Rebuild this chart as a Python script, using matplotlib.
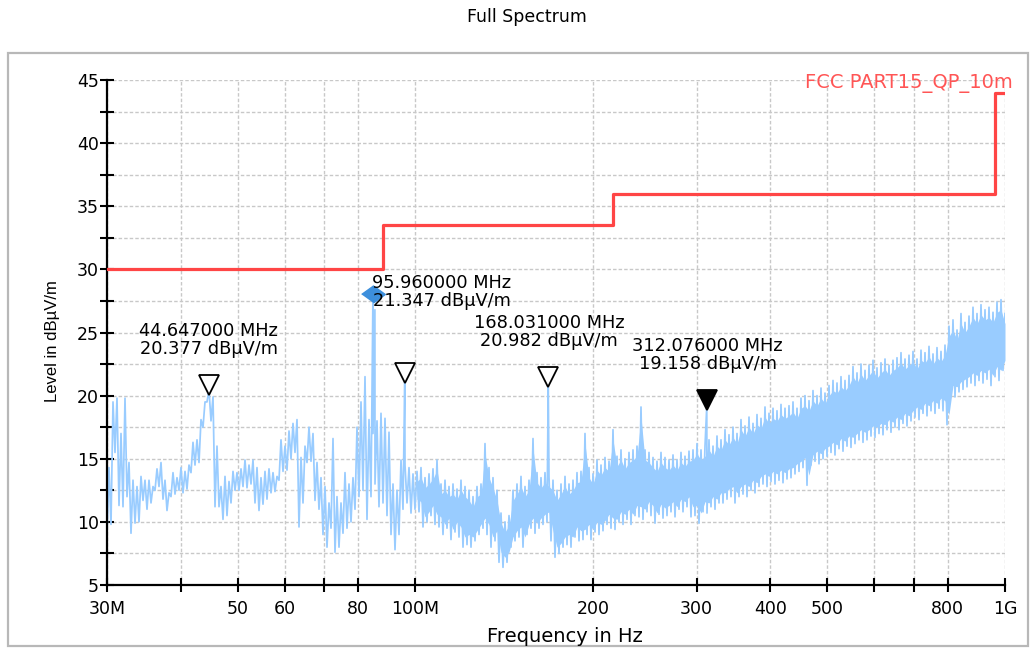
import numpy as np
import matplotlib
matplotlib.use('Agg')
import matplotlib.pyplot as plt
from matplotlib.transforms import offset_copy
from matplotlib.patches import Rectangle
from matplotlib.ticker import NullLocator

plt.rcParams['font.family'] = ['DejaVu Sans']

# ---------------- data ----------------
# measured trace, read per narrow frequency bin: floor (min) and peak (max) in dBuV/m
trace_floor = [
    9.0, 9.8, 15.5, 11.3, 11.2, 12.0, 9.1, 9.9, 10.0, 11.7,
    11.0, 11.5, 12.5, 12.8, 11.8, 10.9, 12.0, 12.2, 12.5, 12.3,
    12.6, 13.9, 14.5, 14.7, 17.5, 19.5, 18.0, 11.2, 11.2, 10.2,
    10.5, 11.5, 12.5, 12.5, 12.8, 12.7, 13.0, 11.5, 10.9, 11.4,
    11.8, 12.3, 12.4, 13.3, 14.0, 14.1, 15.0, 15.5, 9.6, 11.5,
    14.7, 14.8, 11.7, 11.0, 9.0, 8.0, 9.5, 7.6, 8.0, 9.1,
    9.5, 10.0, 11.0, 12.0, 12.5, 10.2, 12.0, 13.0, 11.2, 11.5,
    10.5, 9.0, 7.8, 9.0, 11.0, 11.5, 10.7, 11.0, 10.8, 9.6,
    10.0, 10.5, 9.8, 9.6, 9.0, 9.5, 8.6, 9.2, 8.8, 8.0,
    8.2, 8.0, 8.5, 9.0, 9.5, 9.0, 8.0, 8.5, 6.8, 6.4,
    6.8, 8.0, 8.5, 8.8, 8.0, 9.0, 9.5, 9.1, 9.5, 9.8,
    10.0, 8.5, 7.2, 7.5, 8.0, 8.2, 8.0, 8.8, 8.5, 8.6,
    9.0, 8.6, 9.2, 9.0, 9.3, 9.8, 9.5, 9.4, 10.0, 9.8,
    10.2, 9.8, 10.5, 10.4, 10.2, 10.8, 10.5, 9.9, 10.6, 10.3,
    10.5, 10.8, 10.4, 11.0, 10.8, 11.2, 10.4, 10.5, 9.9, 10.8,
    10.7, 11.2, 11.0, 11.5, 11.5, 11.8, 12.0, 11.5, 12.0, 12.2,
    12.0, 12.5, 12.3, 12.8, 13.0, 12.8, 13.2, 13.0, 13.3, 13.1,
    13.4, 13.5, 13.8, 14.0, 14.3, 12.9, 14.5, 14.8, 14.6, 15.0,
    15.2, 15.5, 15.3, 15.8, 15.6, 16.0, 15.9, 16.2, 16.5, 16.3,
    16.5, 16.8, 16.7, 17.0, 16.9, 17.3, 17.1, 17.5, 17.3, 17.8,
    17.6, 18.0, 18.3, 18.1, 18.6, 18.4, 18.8, 18.6, 19.0, 18.8,
    17.7, 20.0, 19.9, 20.3, 20.5, 20.7, 21.0, 20.8, 21.2, 21.0,
    21.3, 20.8, 21.5, 21.2, 22.0,
]
trace_peak = [
    14.3, 19.5, 19.8, 17.0, 19.8, 14.7, 13.3, 12.8, 13.6, 13.3,
    13.3, 12.8, 14.2, 14.7, 13.3, 12.3, 13.9, 13.5, 14.3, 14.0,
    14.5, 16.3, 16.5, 18.1, 19.5, 20.4, 19.9, 16.0, 12.8, 13.6,
    13.2, 14.0, 13.9, 14.2, 14.9, 14.5, 14.9, 14.3, 13.5, 14.0,
    14.2, 13.9, 13.6, 16.5, 16.0, 17.2, 17.8, 18.1, 15.1, 16.0,
    17.5, 17.0, 14.7, 13.5, 12.8, 11.5, 16.6, 12.0, 11.5, 13.9,
    13.0, 13.5, 17.5, 19.5, 21.5, 18.1, 17.0, 18.0, 18.6, 18.2,
    17.1, 13.0, 12.5, 14.9, 14.5, 14.3, 13.8, 14.0, 14.3, 13.5,
    13.8, 14.2, 14.9, 13.0, 13.3, 12.8, 13.0, 12.6, 13.3, 12.8,
    12.5, 12.0, 12.8, 13.0, 16.2, 14.3, 13.5, 12.5, 10.7, 10.0,
    10.5, 12.5, 13.0, 13.6, 12.8, 13.3, 16.6, 13.9, 13.5, 13.9,
    13.6, 13.3, 12.5, 13.0, 13.6, 13.0, 13.3, 13.9, 14.0, 17.0,
    14.3, 13.8, 14.9, 14.5, 15.1, 14.8, 17.3, 15.2, 15.7, 15.0,
    15.5, 15.7, 16.0, 19.1, 15.7, 15.5, 15.1, 14.8, 15.5, 15.1,
    14.9, 15.3, 14.9, 15.5, 15.2, 15.6, 15.7, 16.2, 15.7, 16.0,
    16.5, 16.0, 16.8, 16.5, 17.3, 16.9, 17.5, 17.0, 18.1, 17.6,
    18.3, 17.8, 18.5, 18.2, 19.1, 18.6, 19.0, 18.8, 19.3, 19.0,
    19.2, 19.5, 19.0, 19.8, 20.0, 19.6, 20.4, 20.0, 20.6, 20.2,
    20.8, 21.2, 21.0, 21.5, 21.2, 21.6, 22.3, 21.8, 22.5, 22.0,
    22.4, 22.8, 22.2, 22.6, 22.9, 22.4, 22.8, 23.0, 23.4, 22.9,
    23.2, 23.5, 22.9, 23.6, 23.4, 23.9, 23.3, 23.8, 23.5, 24.0,
    25.5, 26.0, 25.2, 26.5, 25.8, 26.3, 27.0, 26.5, 27.2, 26.8,
    27.0, 26.6, 27.4, 27.6, 26.5,
]
# narrow emission spikes (MHz, dBuV/m)
spike_freqs = [44.647, 84.75, 85.4, 95.96, 168.031, 312.076]
spike_levels = [20.377, 28.05, 26.8, 21.347, 20.982, 19.158]

# FCC Part 15 QP 10 m limit
limit_freqs = [30, 88, 216, 960, 1000]
limit_levels = [30, 33.5, 36, 44, 44]
limit_name = 'FCC PART15_QP_10m'

# peak markers
marker_freqs = [44.647, 95.96, 168.031, 312.076]
marker_levels = [20.377, 21.347, 20.982, 19.158]
marker_filled = [False, False, False, True]
marker_labels = ['44.647000 MHz\n20.377 dBµV/m', '95.960000 MHz\n21.347 dBµV/m',
                 '168.031000 MHz\n20.982 dBµV/m', '312.076000 MHz\n19.158 dBµV/m']
diamond_freq = 84.75
diamond_level = 28.05

xtick_values = [30, 40, 50, 60, 70, 80, 100, 200, 300, 400, 500, 600, 700, 800, 1000]
xtick_labels = ['30M', '', '50', '60', '', '80', '100M', '200', '300', '400', '500', '', '', '800', '1G']
ytick_values = [5, 7.5, 10, 12.5, 15, 17.5, 20, 22.5, 25, 27.5, 30, 32.5, 35, 37.5, 40, 42.5, 45]
ytick_labels = ['5', '', '10', '', '15', '', '20', '', '25', '', '30', '', '35', '', '40', '', '45']

# ---------------- figure ----------------
W, H = 1032, 648
TRACE = '#99ccff'
fig = plt.figure(figsize=(W / 100, H / 100), dpi=100)
fig.patches.append(Rectangle((8 / W, 1 - 646 / H), 1020 / W, (646 - 53) / H, transform=fig.transFigure,
                             fill=False, edgecolor='#b8b8b8', linewidth=1.6))
ax = fig.add_axes([107 / W, 1 - 585 / H, 898 / W, 505 / H])
ax.set_xscale('log')
ax.set_xlim(30, 1000)
ax.set_ylim(5, 45)

# trace
floor = np.asarray(trace_floor)
peak = np.asarray(trace_peak)
zig = np.column_stack([floor, peak]).ravel()
fx = np.geomspace(30, 1000, zig.size)
all_f = np.concatenate([fx, spike_freqs])
all_l = np.concatenate([zig, spike_levels])
order = np.argsort(all_f)
ax.plot(all_f[order], all_l[order], color=TRACE, lw=1.25, zorder=2)
# dense part of the sweep renders as a filled band
bin_f = fx[1::2]
dense = bin_f >= 100
ax.fill_between(bin_f[dense], floor[dense] + 0.8, peak[dense] - 0.8, color=TRACE, lw=0, zorder=2)

# limit
ax.step(limit_freqs, limit_levels, where='post', color='#ff4545', lw=2.3, zorder=3)
ax.text(1.0089, 0.994, limit_name, transform=ax.transAxes, ha='right', va='center',
        color='#ff5555', fontsize=14, clip_on=False)

# markers
tri_tr = offset_copy(ax.transData, fig=fig, x=0, y=6, units='dots')
for f, l, filled in zip(marker_freqs, marker_levels, marker_filled):
    ax.plot([f], [l], marker='v', ms=14, mew=1.3, mec='black',
            mfc='black' if filled else 'white', transform=tri_tr, zorder=5, clip_on=False)
ax.plot([diamond_freq], [diamond_level], marker=[(-1, 0), (0, 0.72), (1, 0), (0, -0.72)],
        ms=17, color='#3d8fdc', mec='#3d8fdc', zorder=5)

label_offsets = [(0, 51), (37, 87), (1, 51), (1, 51)]
for f, l, txt, off in zip(marker_freqs, marker_levels, marker_labels, label_offsets):
    ax.annotate(txt, xy=(f, l), xytext=off, textcoords='offset pixels', ha='center', va='center',
                multialignment='center', fontsize=12.8, linespacing=1.0, zorder=6)

# axes styling
ax.set_xticks(xtick_values)
ax.set_xticklabels(xtick_labels)
ax.xaxis.set_minor_locator(NullLocator())
ax.set_yticks(ytick_values)
ax.set_yticklabels(ytick_labels)
ax.tick_params(axis='both', direction='inout', length=10, width=1.5, labelsize=12.5, color='black')
ax.tick_params(axis='x', pad=6)
ax.tick_params(axis='y', pad=1)
ax.grid(True, color='#c8c8c8', linestyle=(0, (2.5, 1.5)), linewidth=1.0)
ax.set_axisbelow(True)
for s in ['top', 'right']:
    ax.spines[s].set_visible(False)
for s in ['left', 'bottom']:
    ax.spines[s].set_linewidth(1.6)

fig.text(527 / W, 1 - 17 / H, 'Full Spectrum', ha='center', va='center', fontsize=12.5)
fig.text(565 / W, 1 - 636 / H, 'Frequency in Hz', ha='center', va='center', fontsize=14)
fig.text(52 / W, 1 - 341 / H, 'Level in dBµV/m', ha='center', va='center', rotation=90,
         fontsize=12, family=['Liberation Sans', 'DejaVu Sans'])

fig.savefig('out.png', dpi=100)
